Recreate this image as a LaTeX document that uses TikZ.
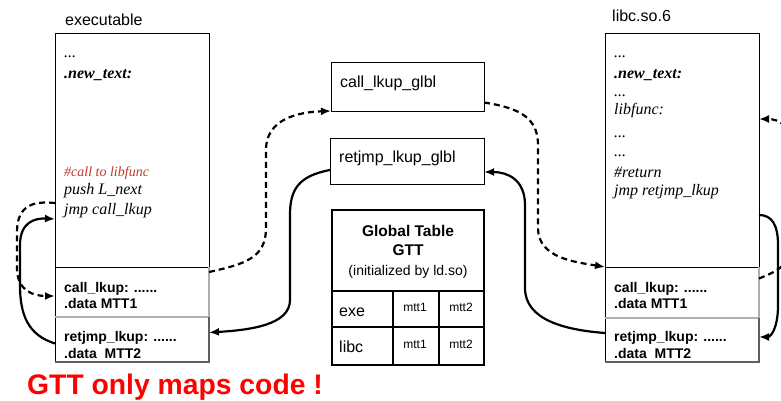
\documentclass[tikz,border=0pt]{standalone}
\usepackage{fontspec}
\setmainfont{Liberation Serif}
\setsansfont{Liberation Sans}
\usetikzlibrary{arrows.meta,calc}
\definecolor{cmtred}{RGB}{192,57,43}
\definecolor{lightedge}{RGB}{175,175,175}
\definecolor{darkedge}{RGB}{95,95,95}

\begin{document}
\begin{tikzpicture}[x=1pt,y=-1pt,
  box/.style={draw=black,line width=0.8pt,fill=white,inner sep=0pt,outer sep=0pt,anchor=north west},
  code/.style={anchor=base west,inner sep=0pt,font=\fontsize{16}{18}\selectfont\itshape},
  codebold/.style={anchor=base west,inner sep=0pt,font=\fontsize{16}{18}\selectfont\bfseries\itshape},
  comment/.style={anchor=base west,inner sep=0pt,text=cmtred,font=\fontsize{14}{16}\selectfont\itshape},
  stub/.style={anchor=base west,inner sep=0pt,font=\fontsize{14}{16}\selectfont\sffamily\bfseries},
  label/.style={anchor=base west,inner sep=0pt,font=\fontsize{16}{18}\selectfont\sffamily},
  cell/.style={anchor=base,inner sep=0pt,font=\fontsize{12}{14}\selectfont\sffamily},
  conn/.style={line width=2.2pt,-{Latex[length=10pt,width=8pt]}},
  dashline/.style={dash pattern=on 6pt off 4pt},
  grid/.style={line width=2.4pt,draw=black}
]
\useasboundingbox (0,0) rectangle (781,401);
\fill[white] (0,0) rectangle (781,401);
\clip (0,0) rectangle (781,401);

% ---------- executable ----------
\node[label] (exetitle) at (65,26) {executable};
\node[box,minimum width=154pt,minimum height=234pt] (execode) at (55,33) {};
\node[box,minimum width=154pt,minimum height=50pt] (execall) at (55,267) {};
\node[box,minimum width=154pt,minimum height=45pt] (exeret) at (55,317) {};
\draw[lightedge,line width=2pt] (execall.north east) -- (execall.south east) -- (execall.south west);
\draw[darkedge,line width=2.2pt] (exeret.north east) -- (exeret.south east) -- (exeret.south west);

\node[code] (e1) at (64,58) {...};
\node[codebold] (e2) at (64,79) {.new\_text:};
\node[comment] (e3) at (64,176) {\#call to libfunc};
\node[code] (e4) at (64,194) {push L\_next};
\node[code] (e5) at (64,214) {jmp call\_lkup};
\node[stub] (e6) at (64,292) {call\_lkup: ......};
\node[stub] (e7) at (64,308) {.data MTT1};
\node[stub] (e8) at (64,341) {retjmp\_lkup: ......};
\node[stub] (e9) at (64,358) {.data\ \ MTT2};

% ---------- libc.so.6 ----------
\node[label] (libtitle) at (612,22) {libc.so.6};
\node[box,minimum width=154pt,minimum height=234pt] (libcode) at (605,33) {};
\node[box,minimum width=154pt,minimum height=51pt] (libcall) at (605,267) {};
\node[box,minimum width=154pt,minimum height=44pt] (libret) at (605,318) {};
\draw[lightedge,line width=2pt] (libcall.north east) -- (libcall.south east) -- (libcall.south west);
\draw[darkedge,line width=2.2pt] (libret.north east) -- (libret.south east) -- (libret.south west);

\node[code] (l1) at (614,58) {...};
\node[codebold] (l2) at (614,79) {.new\_text:};
\node[code] (l3) at (614,97) {...};
\node[code] (l4) at (614,115) {libfunc:};
\node[code] (l5) at (614,137) {...};
\node[code] (l6) at (614,157) {...};
\node[code] (l7) at (614,177) {\#return};
\node[code] (l8) at (614,195) {jmp retjmp\_lkup};
\node[stub] (l9) at (614,292) {call\_lkup: ......};
\node[stub] (l10) at (614,308) {.data MTT1};
\node[stub] (l11) at (614,341) {retjmp\_lkup: ......};
\node[stub] (l12) at (614,358) {.data\ \ MTT2};

% ---------- global lookup stubs ----------
\node[box,minimum width=153pt,minimum height=49pt] (glblcall) at (331,62) {};
\node[label] (g1) at (340,88) {call\_lkup\_glbl};
\node[box,minimum width=154pt,minimum height=46pt] (glblret) at (330,138) {};
\node[label] (g2) at (339,162) {retjmp\_lkup\_glbl};

% ---------- global table ----------
\node[box,draw=none,minimum width=152pt,minimum height=155pt] (gtt) at (332,210) {};
\draw[grid] (332,291) -- (484,291);
\draw[grid] (332,327) -- (484,327);
\draw[line width=2pt] (393,291) -- (393,365);
\draw[line width=2pt] (439,291) -- (439,365);
\draw[line width=2.8pt] (gtt.north west) rectangle (gtt.south east);
\node[anchor=base,inner sep=0pt,font=\fontsize{15.5}{18}\selectfont\sffamily\bfseries] (t1) at (408,236) {Global Table};
\node[anchor=base,inner sep=0pt,font=\fontsize{15.5}{18}\selectfont\sffamily\bfseries] (t2) at (408,255) {GTT};
\node[anchor=base,inner sep=0pt,font=\fontsize{14}{16}\selectfont\sffamily] (t3) at (408,275) {(initialized by ld.so)};
\node[label] (r1) at (339,316) {exe};
\node[label] (r2) at (339,352) {libc};
\node[cell] (c11) at (415,311) {mtt1};
\node[cell] (c12) at (461,311) {mtt2};
\node[cell] (c21) at (415,348) {mtt1};
\node[cell] (c22) at (461,348) {mtt2};

% ---------- note ----------
\node[anchor=base west,inner sep=0pt,text=red,font=\fontsize{28.3}{32}\selectfont\sffamily\bfseries] (note) at (27,394) {GTT only maps code !};

% ---------- control flow ----------
\draw[conn,dashline] ($(execode.north west)+(0,170)$) .. controls (35,201) and (17,204) .. (17,232) -- (17,268) .. controls (17,292) and (35,296) .. ($(execall.west)+(0,4)$);
\draw[conn] ($(exeret.west)+(0,4)$) .. controls (28,335) and (20,315) .. (20,285) -- (20,245) .. controls (20,222) and (35,218) .. ($(execode.north west)+(0,186)$);
\draw[conn,dashline] ($(execall.north east)+(0,5)$) .. controls (245,264) and (266,258) .. (266,228) -- (266,150) .. controls (266,118) and (300,112) .. (glblcall.south west);
\draw[conn] ($(glblret.west)+(0,9)$) .. controls (298,176) and (290,190) .. (290,215) -- (290,300) .. controls (290,325) and (250,330) .. ($(exeret.east)+(0,-7)$);
\draw[conn,dashline] ($(glblcall.east)+(0,16)$) .. controls (520,108) and (538,118) .. (538,145) -- (538,228) .. controls (538,258) and (575,262) .. (libcall.north west);
\draw[conn] ($(libret.west)+(0,-7)$) .. controls (565,330) and (525,320) .. (525,288) -- (525,205) .. controls (525,180) and (508,172) .. ($(glblret.east)+(0,11)$);
\draw[conn] ($(libcode.east)+(0,65)$) .. controls (772,215) and (778,225) .. (778,245) -- (778,305) .. controls (778,330) and (770,337) .. ($(libret.east)+(0,-3)$);
\draw[conn,dashline] ($(libcall.east)+(0,-14)$) .. controls (775,272) and (792,266) .. (792,240) -- (792,150) .. controls (792,125) and (778,119) .. ($(libcode.north east)+(0,86)$);
\end{tikzpicture}
\end{document}
